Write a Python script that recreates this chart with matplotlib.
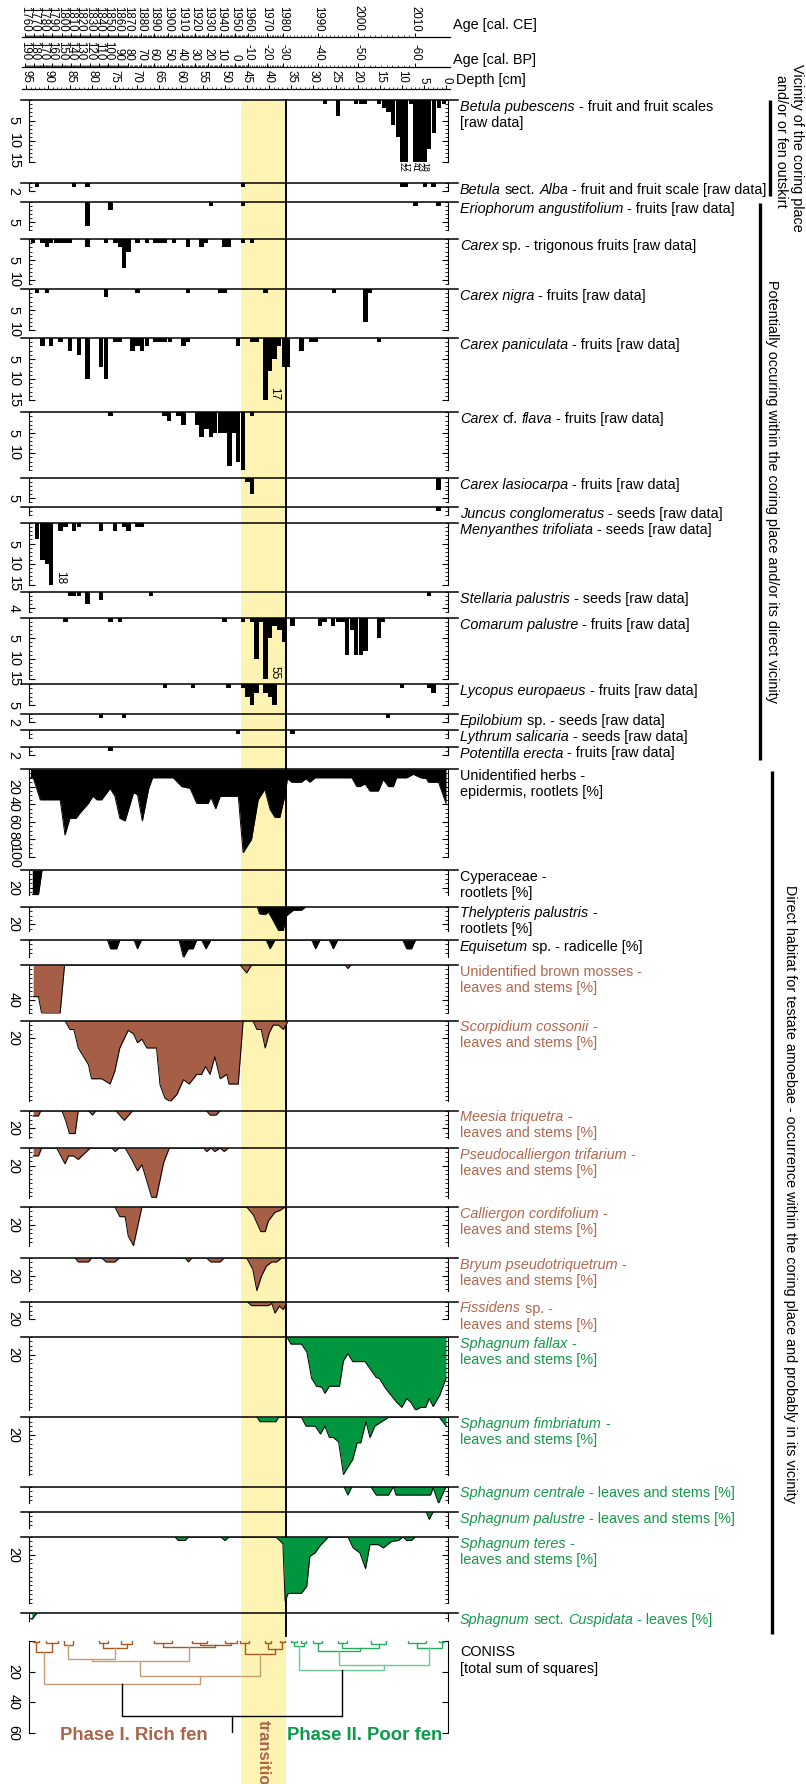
import numpy as np
import matplotlib
matplotlib.use("Agg")
import matplotlib.pyplot as plt
from matplotlib.ticker import FixedLocator, MultipleLocator

plt.rcParams['font.family'] = ['Liberation Sans', 'DejaVu Sans']

# ------------------------------------------------------------------ data
# raw counts (depth in cm, count)
betula_pub_depth = [27.4, 24.4, 20.4, 19.3, 18.3, 15.1, 14.1, 13.0, 12.0, 10.9, 9.9, 9.0, 7.9, 6.9, 5.9, 4.9, 3.8, 2.7, 1.6, 0.5]
betula_pub_count = [1, 4, 1, 1, 1, 1, 2, 3, 6, 9, 22, 17, 1, 41, 23, 18, 12, 8, 2, 1]
betula_alba_depth = [92.5, 84.2, 81.1, 45.9, 9.9, 9.0, 4.8, 2.8]
betula_alba_count = [1, 1, 1, 1, 1, 1, 1, 1]
erioph_depth = [81.1, 75.9, 53.2, 45.9, 6.9, 1.7]
erioph_count = [6, 2, 1, 1, 1, 1]
carex_sp_depth = [93.4, 91.3, 90.3, 89.3, 88.3, 87.3, 86.3, 85.2, 81.1, 76.9, 74.8, 73.8, 72.8, 71.8, 69.8, 67.7,
                  65.7, 64.6, 63.6, 61.5, 58.4, 55.3, 54.3, 50.1, 49.2, 45.9, 43.9]
carex_sp_count = [1, 1, 2, 1, 1, 1, 1, 1, 2, 1, 1, 2, 7, 3, 1, 1, 1, 1, 1, 1, 2, 2, 1, 2, 2, 1, 1]
carex_nigra_depth = [92.5, 90.3, 76.9, 69.8, 58.4, 51.1, 50.1, 40.8, 25.4, 18.2, 17.2]
carex_nigra_count = [1, 1, 2, 1, 1, 1, 1, 1, 1, 8, 1]
carex_pan_depth = [91.3, 89.3, 87.2, 85.1, 83.1, 81.1, 78.1, 76.9, 74.8, 73.8, 70.9, 69.8, 68.8, 67.7, 65.7, 64.6,
                   63.6, 62.5, 59.4, 58.4, 47.1, 43.9, 42.9, 40.8, 39.8, 38.8, 37.8, 36.7, 35.7, 32.7, 30.5, 29.5, 15.2]
carex_pan_count = [2, 2, 1, 3, 4, 10, 7, 10, 1, 1, 3, 2, 3, 2, 1, 1, 1, 1, 2, 1, 2, 1, 1, 17, 8, 5, 2, 7, 7, 3, 1, 1, 1]
carex_flava_depth = [75.9, 63.7, 62.7, 60.5, 59.4, 56.3, 55.3, 54.2, 53.2, 52.2, 51.1, 50.1, 49.0, 48.0, 47.0, 45.9, 43.9]
carex_flava_count = [1, 1, 2, 1, 3, 3, 6, 4, 6, 5, 5, 5, 13, 5, 12, 14, 1]
carex_lasio_depth = [44.9, 43.9, 1.7]
carex_lasio_count = [1, 4, 3]
juncus_depth = [1.7]
juncus_count = [1]
menyanthes_depth = [92.5, 91.3, 90.3, 89.3, 87.2, 86.1, 84.2, 83.1, 78.0, 74.9, 72.8, 71.8, 69.8, 68.8]
menyanthes_count = [4, 9, 10, 18, 2, 1, 2, 1, 2, 2, 1, 2, 1, 1]
stellaria_depth = [85.1, 84.2, 83.1, 81.1, 78.0, 66.7, 3.8]
stellaria_count = [1, 1, 1, 3, 2, 1, 1]
comarum_depth = [86.1, 75.9, 73.8, 50.1, 45.9, 43.9, 42.9, 41.8, 40.8, 39.8, 38.8, 37.7, 36.7, 34.7, 28.5, 27.5,
                 25.5, 24.5, 23.4, 22.4, 21.3, 20.4, 19.3, 18.2, 15.2, 14.2]
comarum_count = [1, 1, 1, 1, 1, 1, 10, 1, 55, 5, 2, 3, 6, 2, 2, 1, 2, 1, 1, 9, 3, 9, 9, 8, 5, 1]
lycopus_depth = [63.6, 57.3, 49.2, 45.9, 44.9, 43.9, 42.9, 40.8, 39.8, 38.8, 10.0, 3.8, 2.8]
lycopus_count = [1, 1, 1, 1, 3, 5, 2, 2, 3, 5, 1, 1, 2]
epilobium_depth = [78.0, 72.8, 13.1]
epilobium_count = [1, 1, 1]
lythrum_depth = [47.1, 34.7]
lythrum_count = [1, 1]
potentilla_depth = [75.9]
potentilla_count = [1]

# percentages (depth in cm, %)
herbs_depth = [94.0, 93.4, 91.8, 87.3, 86.2, 85.1, 83.7, 82.8, 80.9, 79.9, 79.0, 77.9, 76.0, 74.9, 73.8, 72.6,
               70.7, 69.8, 68.7, 67.3, 66.4, 61.7, 59.8, 57.9, 56.4, 53.8, 53.2, 52.1, 51.1, 47.0, 45.9, 44.0,
               42.5, 41.0, 39.8, 38.7, 37.6, 36.3, 35.9, 34.9, 32.7, 31.7, 30.8, 29.6, 21.3, 20.2, 19.5, 18.3,
               17.2, 15.3, 14.2, 13.0, 11.9, 11.2, 8.9, 7.4, 5.7, 4.4, 4.0, 1.7, 0.0]
herbs_pct = [10, 10, 35, 35, 75, 56, 56, 50, 39, 31, 35, 35, 22, 31, 56, 59, 27, 29, 59, 23, 10, 10, 20, 22, 39, 39,
             32, 45, 31, 31, 95, 80, 35, 23, 46, 55, 55, 27, 11, 15, 15, 11, 15, 10, 10, 20, 20, 17, 25, 25, 12, 20,
             20, 10, 10, 6, 10, 11, 15, 15, 39]
cyper_depth = [93.6, 92.2, 91.4]
cyper_pct = [28, 28, 0]
thely_depth = [42.7, 42.2, 40.9, 40.2, 39.4, 37.9, 36.8, 36.2, 35.3, 34.5, 32.7, 31.7]
thely_pct = [0, 8, 9, 6, 13, 27, 27, 11, 7, 4, 4, 0]
equis_depth = [76.6, 75.9, 74.5, 73.8, 70.6, 69.8, 68.9, 60.4, 59.4, 58.3, 57.2, 56.4, 55.3, 54.3, 53.2, 40.7, 39.8,
               38.7, 30.4, 29.5, 28.5, 26.4, 25.5, 24.5, 9.8, 8.9, 7.8, 6.9]
equis_pct = [0, 10, 10, 0, 0, 10, 0, 0, 20, 10, 10, 0, 0, 10, 0, 0, 10, 0, 0, 10, 0, 0, 10, 0, 0, 10, 10, 0]
brown_depth = [93.4, 92.2, 91.5, 87.3, 86.3, 46.6, 45.1, 44.0, 22.8, 22.2, 21.5]
brown_pct = [36, 36, 55, 55, 0, 0, 9, 0, 0, 4, 0]
scorp_depth = [86.2, 85.1, 84.2, 83.2, 80.9, 80.2, 77.9, 76.0, 74.9, 73.8, 71.9, 70.7, 69.8, 68.8, 67.7, 65.5, 64.7,
               63.6, 62.4, 60.9, 59.4, 58.1, 56.4, 55.3, 54.4, 53.4, 52.3, 51.1, 49.6, 49.1, 47.0, 45.9, 43.7, 42.8,
               41.8, 40.9, 40.0, 39.1, 37.9, 36.8, 36.0, 35.8]
scorp_pct = [0, 10, 10, 31, 50, 66, 66, 72, 57, 31, 11, 15, 25, 21, 31, 31, 73, 88, 92, 84, 67, 72, 61, 61, 52, 61,
             41, 66, 61, 72, 72, 0, 0, 10, 10, 31, 14, 5, 5, 10, 3, 0]
meesia_depth = [93.4, 92.2, 91.7, 86.9, 86.0, 85.2, 83.9, 83.2, 80.9, 80.0, 79.2, 74.7, 72.8, 70.9, 54.2, 53.4, 52.0, 51.1]
meesia_pct = [6, 6, 0, 0, 12, 26, 26, 0, 0, 5, 0, 0, 11, 0, 0, 5, 5, 0]
pseudo_depth = [93.4, 92.2, 91.5, 88.1, 86.2, 85.4, 84.3, 83.2, 80.5, 75.6, 74.9, 73.9, 72.6, 71.1, 69.8, 68.8, 66.6,
                65.5, 63.9, 62.6, 54.9, 54.1, 53.2, 52.3, 51.1, 50.2, 49.2]
pseudo_pct = [9, 9, 0, 0, 18, 9, 9, 13, 0, 0, 4, 0, 0, 13, 26, 19, 56, 56, 17, 0, 0, 4, 0, 4, 0, 4, 0]
callier_depth = [74.9, 73.8, 72.6, 71.9, 70.7, 68.8, 45.1, 43.6, 41.9, 40.9, 40.2, 38.7, 37.6, 36.4]
callier_pct = [0, 11, 11, 33, 44, 0, 0, 9, 28, 28, 16, 6, 4, 0]
bryum_depth = [83.9, 83.2, 80.9, 80.2, 77.9, 76.9, 74.9, 73.9, 59.0, 58.3, 57.5, 54.2, 53.2, 51.1, 50.2, 45.1, 43.7,
               42.8, 41.7, 40.6, 39.4, 38.3, 37.2]
bryum_pct = [0, 4.5, 4.5, 0, 0, 4.5, 4.5, 0, 0, 4.5, 0, 0, 4.5, 4.5, 0, 0, 13, 37, 20, 9, 4.5, 4.5, 0]
fissid_depth = [45.0, 44.0, 40.2, 39.4, 38.7, 37.7, 36.8, 36.0]
fissid_pct = [0, 4.5, 4.5, 2, 13, 5, 9, 0]
fallax_depth = [36.0, 35.1, 32.7, 31.5, 30.4, 29.3, 28.1, 27.4, 26.4, 24.1, 23.2, 22.2, 21.1, 18.3, 17.2, 15.8, 15.1,
                13.6, 12.3, 11.2, 10.0, 8.9, 8.0, 6.9, 5.7, 4.6, 3.8, 2.9, 1.4, 0.0]
fallax_pct = [0, 8, 8, 17, 47, 56, 57, 64, 56, 56, 27, 19, 28, 28, 36, 46, 47, 59, 67, 74, 80, 70, 74, 83, 80, 80, 70,
              79, 66, 47]
fimbr_depth = [42.7, 42.1, 38.5, 37.9, 32.7, 31.7, 29.6, 28.4, 27.4, 26.4, 25.5, 24.3, 23.2, 22.1, 21.1, 20.1, 19.3,
               18.1, 17.2, 16.1, 13.0, 1.5, 0.0]
fimbr_pct = [0, 5, 5, 0, 0, 10, 10, 19, 10, 23, 23, 28, 65, 56, 48, 29, 29, 5, 23, 10, 0, 0, 10]
centrale_depth = [23.1, 22.2, 21.3, 17.0, 15.8, 13.0, 11.9, 11.3, 3.5, 2.9, 1.7, 0.0]
centrale_pct = [0, 9.5, 0, 0, 9.5, 9.5, 0, 9.5, 9.5, 1, 19, 0]
spalustre_depth = [4.5, 3.8, 2.9]
spalustre_pct = [0, 8.7, 0]
teres_depth = [61.3, 60.6, 59.0, 58.3, 51.0, 50.0, 49.1, 38.5, 36.9, 36.4, 35.7, 32.7, 31.5, 30.8, 29.6, 28.5, 26.6,
               22.2, 21.0, 19.5, 18.2, 17.2, 15.3, 14.2, 12.3, 10.8, 9.7, 8.9, 7.8, 7.0]
teres_pct = [0, 4, 4, 0, 0, 4, 0, 0, 7.6, 73, 64, 64, 56, 22, 18, 10, 0, 0, 12.5, 18, 36, 8.7, 8.7, 12.5, 5, 4, 0, 4,
             4, 0]
cusp_depth = [93.7, 92.6]
cusp_pct = [7, 0]

# age scale (tick positions)
age_years = [1760, 1770, 1780, 1790, 1800, 1810, 1820, 1830, 1840, 1850, 1860, 1870, 1880, 1890, 1900, 1910, 1920,
             1930, 1940, 1950, 1960, 1970, 1980, 1990, 2000, 2010]
age_depths = [95.2, 93.1, 91.2, 89.2, 86.9, 84.9, 82.8, 80.5, 78.4, 76.4, 74.1, 71.9, 68.9, 66.1, 62.8, 59.8, 56.8,
              53.8, 50.8, 47.7, 44.7, 40.6, 36.8, 28.9, 19.8, 7.0]
depth_ticks = [95, 90, 85, 80, 75, 70, 65, 60, 55, 50, 45, 40, 35, 30, 25, 20, 15, 10, 5, 0]

transition_lower_depth = 46.4
transition_upper_depth = 36.2

# CONISS tree: (left, right, total sum of squares); leaves are depths
coniss_phase1 = (((93.5, 92.0, 0.8), (90.5, 87.8, 1.2), 7.3),
                 ((((86.5, 84.5, 2.5), ((78.5, 76.5, 1.5), (73.5, 71.0, 2.0), 4.5), 11.5),
                   ((66.0, 62.0, 1.5), ((57.5, 54.0, 1.0), (50.0, 47.3, 1.2), 2.5), 3.7), 13.0),
                  ((46.5, 44.5, 1.0), ((41.0, 39.5, 1.5), (37.5, 36.5, 0.8), 5.5), 8.6), 23.0),
                 28.0)
coniss_phase2 = (((35.0, 33.8, 0.8), (32.8, 31.6, 1.2), 3.5),
                 (((30.0, 28.0, 1.5), ((24.5, 22.5, 1.5), (17.0, 13.5, 2.2), 4.5), 6.6),
                  ((8.5, 4.5, 1.5), (1.5, 0.5, 0.6), 4.3), 15.6),
                 19.0)
coniss_root_height = 49.0

# ------------------------------------------------------------------ styling
W, H = 806, 1784
FS = 10.4
BLACK = 'black'
BROWN = '#a65e46'
BROWN_TXT = '#b0674d'
GREEN = '#009640'
GREEN_TXT = '#139a48'
YELLOW = '#fdf3b2'
X0, PXCM = 446.0, 4.42


def px2d(px):
    return (X0 - px) / PXCM


fig = plt.figure(figsize=(W / 100, H / 100), dpi=100)

# background (depth coordinates horizontally, pixels vertically)
bg = fig.add_axes([0, 0, 1, 1])
bg.set_zorder(-5)
bg.set_xlim(px2d(0), px2d(W))
bg.set_ylim(H, 0)
bg.axis('off')
bg.fill_betweenx([100, H], transition_lower_depth, transition_upper_depth, color=YELLOW, lw=0)
bg.plot([transition_upper_depth] * 2, [100, 1636], color='black', lw=1.4)

# overlay (pixel coordinates) for text and group brackets
ov = fig.add_axes([0, 0, 1, 1])
ov.set_zorder(10)
ov.set_xlim(0, W)
ov.set_ylim(H, 0)
ov.axis('off')
ov.patch.set_alpha(0)


def make_axes(top_px, bottom_px, left_px=21, right_px=458):
    ax = fig.add_axes([left_px / W, 1 - bottom_px / H, (right_px - left_px) / W, (bottom_px - top_px) / H])
    ax.set_facecolor('none')
    ax.set_xlim(px2d(left_px), px2d(right_px))
    return ax


def put_label(top_px, lines, color):
    y = top_px + 10.8
    for line in lines:
        prev = None
        for text, ital in line:
            style = 'italic' if ital else 'normal'
            if prev is None:
                prev = ov.text(460, y, text, fontsize=FS, fontstyle=style, color=color, ha='left', va='baseline')
            else:
                off = 0
                if text.startswith(' '):
                    off = 0.278 * FS
                    text = text[1:]
                prev = ov.annotate(text, xy=(1, 0), xycoords=prev, xytext=(off, 0), textcoords='offset points',
                                   ha='left', va='bottom', fontsize=FS, fontstyle=style, color=color,
                                   annotation_clip=False)
        y += 16


I, N = True, False
RAW = ' [raw data]'
panels = [
    dict(kind='bar', d=betula_pub_depth, v=betula_pub_count, top=100, ymax=15, ticks=[5, 10, 15], num='below',
         label=[[("Betula pubescens", I), (" - fruit and fruit scales", N)], [("[raw data]", N)]]),
    dict(kind='bar', d=betula_alba_depth, v=betula_alba_count, top=183, ymax=2, ticks=[2],
         label=[[("Betula", I), (" sect.", N), (" Alba", I), (" - fruit and fruit scale" + RAW, N)]]),
    dict(kind='bar', d=erioph_depth, v=erioph_count, top=201.7, ymax=7, ticks=[5],
         label=[[("Eriophorum angustifolium", I), (" - fruits" + RAW, N)]]),
    dict(kind='bar', d=carex_sp_depth, v=carex_sp_count, top=239.3, ymax=11, ticks=[5, 10],
         label=[[("Carex", I), (" sp. - trigonous fruits" + RAW, N)]]),
    dict(kind='bar', d=carex_nigra_depth, v=carex_nigra_count, top=289.3, ymax=10, ticks=[5, 10],
         label=[[("Carex nigra", I), (" - fruits" + RAW, N)]]),
    dict(kind='bar', d=carex_pan_depth, v=carex_pan_count, top=338.3, ymax=15, ticks=[5, 10, 15], num='side',
         label=[[("Carex paniculata", I), (" - fruits" + RAW, N)]]),
    dict(kind='bar', d=carex_flava_depth, v=carex_flava_count, top=412.3, ymax=14, ticks=[5, 10],
         label=[[("Carex", I), (" cf.", N), (" flava", I), (" - fruits" + RAW, N)]]),
    dict(kind='bar', d=carex_lasio_depth, v=carex_lasio_count, top=477.7, ymax=6, ticks=[5],
         label=[[("Carex lasiocarpa", I), (" - fruits" + RAW, N)]]),
    dict(kind='bar', d=juncus_depth, v=juncus_count, top=507, ymax=2, ticks=[],
         label=[[("Juncus conglomeratus", I), (" - seeds" + RAW, N)]]),
    dict(kind='bar', d=menyanthes_depth, v=menyanthes_count, top=523, ymax=15, ticks=[5, 10, 15], num='side',
         label=[[("Menyanthes trifoliata", I), (" - seeds" + RAW, N)]]),
    dict(kind='bar', d=stellaria_depth, v=stellaria_count, top=591.7, ymax=5, ticks=[4],
         label=[[("Stellaria palustris", I), (" - seeds" + RAW, N)]]),
    dict(kind='bar', d=comarum_depth, v=comarum_count, top=617.7, ymax=15, ticks=[5, 10, 15], num='side',
         label=[[("Comarum palustre", I), (" - fruits" + RAW, N)]]),
    dict(kind='bar', d=lycopus_depth, v=lycopus_count, top=684.3, ymax=5, ticks=[5],
         label=[[("Lycopus europaeus", I), (" - fruits" + RAW, N)]]),
    dict(kind='bar', d=epilobium_depth, v=epilobium_count, top=714, ymax=2, ticks=[2],
         label=[[("Epilobium", I), (" sp. - seeds" + RAW, N)]]),
    dict(kind='bar', d=lythrum_depth, v=lythrum_count, top=730, ymax=2, ticks=[],
         label=[[("Lythrum salicaria", I), (" - seeds" + RAW, N)]]),
    dict(kind='bar', d=potentilla_depth, v=potentilla_count, top=746.7, ymax=2, ticks=[2],
         label=[[("Potentilla erecta", I), (" - fruits" + RAW, N)]]),
    dict(kind='area', d=herbs_depth, v=herbs_pct, top=769, ymax=100, ticks=[20, 40, 60, 80, 100], fc=BLACK, tc=BLACK,
         label=[[("Unidentified herbs -", N)], [("epidermis, rootlets [%]", N)]]),
    dict(kind='area', d=cyper_depth, v=cyper_pct, top=870, ymax=28, ticks=[20], fc=BLACK, tc=BLACK,
         label=[[("Cyperaceae -", N)], [("rootlets [%]", N)]]),
    dict(kind='area', d=thely_depth, v=thely_pct, top=906.7, ymax=28, ticks=[20], fc=BLACK, tc=BLACK,
         label=[[("Thelypteris palustris", I), (" -", N)], [("rootlets [%]", N)]]),
    dict(kind='area', d=equis_depth, v=equis_pct, top=940, ymax=19, ticks=[], fc=BLACK, tc=BLACK,
         label=[[("Equisetum", I), (" sp. - radicelle [%]", N)]]),
    dict(kind='area', d=brown_depth, v=brown_pct, top=965, ymax=55, ticks=[40], fc=BROWN, tc=BROWN_TXT,
         label=[[("Unidentified brown mosses -", N)], [("leaves and stems [%]", N)]]),
    dict(kind='area', d=scorp_depth, v=scorp_pct, top=1020.7, ymax=91, ticks=[20], fc=BROWN, tc=BROWN_TXT,
         label=[[("Scorpidium cossonii", I), (" -", N)], [("leaves and stems [%]", N)]]),
    dict(kind='area', d=meesia_depth, v=meesia_pct, top=1110.7, ymax=31, ticks=[20], fc=BROWN, tc=BROWN_TXT,
         label=[[("Meesia triquetra", I), (" -", N)], [("leaves and stems [%]", N)]]),
    dict(kind='area', d=pseudo_depth, v=pseudo_pct, top=1148, ymax=57, ticks=[20], fc=BROWN, tc=BROWN_TXT,
         label=[[("Pseudocalliergon trifarium", I), (" -", N)], [("leaves and stems [%]", N)]]),
    dict(kind='area', d=callier_depth, v=callier_pct, top=1207, ymax=44, ticks=[20], fc=BROWN, tc=BROWN_TXT,
         label=[[("Calliergon cordifolium", I), (" -", N)], [("leaves and stems [%]", N)]]),
    dict(kind='area', d=bryum_depth, v=bryum_pct, top=1258, ymax=38, ticks=[20], fc=BROWN, tc=BROWN_TXT,
         label=[[("Bryum pseudotriquetrum", I), (" -", N)], [("leaves and stems [%]", N)]]),
    dict(kind='area', d=fissid_depth, v=fissid_pct, top=1301.7, ymax=20, ticks=[20], fc=BROWN, tc=BROWN_TXT,
         label=[[("Fissidens", I), (" sp. -", N)], [("leaves and stems [%]", N)]]),
    dict(kind='area', d=fallax_depth, v=fallax_pct, top=1337, ymax=83, ticks=[20], fc=GREEN, tc=GREEN_TXT,
         label=[[("Sphagnum fallax", I), (" -", N)], [("leaves and stems [%]", N)]]),
    dict(kind='area', d=fimbr_depth, v=fimbr_pct, top=1417.3, ymax=66, ticks=[20], fc=GREEN, tc=GREEN_TXT,
         label=[[("Sphagnum fimbriatum", I), (" -", N)], [("leaves and stems [%]", N)]]),
    dict(kind='area', d=centrale_depth, v=centrale_pct, top=1486.7, ymax=19, ticks=[], fc=GREEN, tc=GREEN_TXT,
         label=[[("Sphagnum centrale", I), (" - leaves and stems [%]", N)]]),
    dict(kind='area', d=spalustre_depth, v=spalustre_pct, top=1511.7, ymax=19, ticks=[], fc=GREEN, tc=GREEN_TXT,
         label=[[("Sphagnum palustre", I), (" - leaves and stems [%]", N)]]),
    dict(kind='area', d=teres_depth, v=teres_pct, top=1537, ymax=75, ticks=[20], fc=GREEN, tc=GREEN_TXT,
         label=[[("Sphagnum teres", I), (" -", N)], [("leaves and stems [%]", N)]]),
    dict(kind='area', d=cusp_depth, v=cusp_pct, top=1613.3, ymax=9, ticks=[], fc=GREEN, tc=GREEN_TXT,
         label=[[("Sphagnum", I), (" sect.", N), (" Cuspidata", I), (" - leaves [%]", N)]]),
]


def style_spines(ax, show_top=True):
    ax.spines['bottom'].set_visible(False)
    ax.spines['top'].set_visible(show_top)
    ax.spines['top'].set_linewidth(1.1)
    ax.spines['left'].set_position(('data', px2d(29)))
    ax.spines['right'].set_position(('data', px2d(448)))
    ax.spines['left'].set_linewidth(0.8)
    ax.spines['right'].set_linewidth(0.8)
    ax.set_xticks([])


for p in panels:
    scale = 4.1 if p['kind'] == 'bar' else 0.88
    ax = make_axes(p['top'], p['top'] + p['ymax'] * scale)
    ax.set_ylim(p['ymax'], 0)
    style_spines(ax)
    d = np.asarray(p['d'], float)
    v = np.asarray(p['v'], float)
    if p['kind'] == 'bar':
        ax.bar(d, v, width=0.98, bottom=0, color='black', linewidth=0)
        for dd, vv in zip(d, v):
            if vv > p['ymax']:
                if p.get('num') == 'below':
                    ax.text(dd, p['ymax'], '%d' % vv, rotation=-90, ha='center', va='top', fontsize=6.3,
                            clip_on=False)
                else:
                    ax.text(dd - 0.6, p['ymax'], '%d' % vv, rotation=-90, ha='left', va='bottom', fontsize=8.5,
                            clip_on=False)
        minor = 1
        color = BLACK
    else:
        ax.fill_between(d, 0, v, color=p['fc'], lw=0)
        ax.plot(d, v, color='black', lw=0.7)
        minor = 5
        color = p['tc']
    ax.yaxis.set_major_locator(FixedLocator(p['ticks']))
    ax.yaxis.set_minor_locator(MultipleLocator(minor))
    ax.set_yticklabels([str(t) for t in p['ticks']], rotation=-90, va='center', ha='right', fontsize=FS)
    ax.tick_params(axis='y', which='both', direction='in', left=True, right=True, labelleft=True,
                   labelright=False)
    ax.tick_params(axis='y', which='major', length=4, width=0.8, pad=6)
    ax.tick_params(axis='y', which='minor', length=2.2, width=0.6)
    put_label(p['top'], p['label'], color)

# ------------------------------------------------------------------ CONISS
axc = make_axes(1641, 1733)
axc.set_ylim(60, 0)
style_spines(axc, show_top=False)
axc.set_yticks([0, 20, 40, 60])
axc.set_yticklabels(['', '20', '40', '60'], rotation=-90, va='center', ha='right', fontsize=FS)
axc.tick_params(axis='y', which='major', direction='in', left=True, right=True, length=4, width=0.8, pad=6)

tree_colors = {1: ('#c69d78', '#a8581f'), 2: ('#6acb95', '#25ad5e')}


def draw_node(ax, node, group):
    if not isinstance(node, tuple):
        return float(node), 0.0
    left, right, h = node
    xl, hl = draw_node(ax, left, group)
    xr, hr = draw_node(ax, right, group)
    col = tree_colors[group][0 if h >= 10 else 1]
    ax.plot([xl, xl, xr, xr], [hl, h, h, hr], color=col, lw=1.0, solid_joinstyle='miter')
    return (xl + xr) / 2, h


x1, h1 = draw_node(axc, coniss_phase1, 1)
x2, h2 = draw_node(axc, coniss_phase2, 2)
axc.plot([x1, x1, x2, x2], [h1, coniss_root_height, coniss_root_height, h2], color='black', lw=1.0)
axc.plot([(x1 + x2) / 2] * 2, [coniss_root_height, 60], color='black', lw=1.0)
ov.text(460, 1656, 'CONISS', fontsize=FS, ha='left', va='baseline')
ov.text(460, 1673, '[total sum of squares]', fontsize=FS, ha='left', va='baseline')

# ------------------------------------------------------------------ top axes


def top_axis(line_y, major_d, labels, minor_d):
    ax = fig.add_axes([22 / W, 1 - line_y / H, (450 - 22) / W, 0.0001])
    ax.set_facecolor('none')
    ax.set_xlim(px2d(22), px2d(450))
    for s in ['left', 'right', 'bottom']:
        ax.spines[s].set_visible(False)
    ax.spines['top'].set_linewidth(0.9)
    ax.set_yticks([])
    ax.xaxis.set_ticks_position('top')
    ax.set_xticks(major_d)
    ax.set_xticklabels(labels, rotation=-90, ha='center', va='bottom', fontsize=8.3)
    ax.set_xticks(minor_d, minor=True)
    ax.tick_params(axis='x', which='major', direction='out', length=3.2, width=0.7, pad=1)
    ax.tick_params(axis='x', which='minor', direction='out', length=1.6, width=0.5)
    return ax


yrs = np.arange(1760, 2011)
minor_age = np.interp(yrs, age_years, age_depths)
top_axis(37.3, age_depths, [str(y) for y in age_years], minor_age)
top_axis(66.7, age_depths, [str(1950 - y) for y in age_years], minor_age)
top_axis(89.3, depth_ticks, [str(t) for t in depth_ticks], np.arange(0, 96, 1))
ov.text(453, 25, 'Age [cal. CE]', fontsize=FS, ha='left', va='center')
ov.text(453, 60, 'Age [cal. BP]', fontsize=FS, ha='left', va='center')
ov.text(456, 80, 'Depth [cm]', fontsize=FS, ha='left', va='center')

# ------------------------------------------------------------------ groups on the right
ov.plot([770, 770], [100, 196], color='black', lw=2.4, solid_capstyle='butt')
ov.plot([760, 760], [203, 760], color='black', lw=2.4, solid_capstyle='butt')
ov.plot([772, 772], [771, 1634], color='black', lw=2.4, solid_capstyle='butt')
ov.text(797, 148, 'Vicinity of the coring place', rotation=270, fontsize=FS, ha='center', va='center')
ov.text(781, 141, 'and/or or fen outskirt', rotation=270, fontsize=FS, ha='center', va='center')
ov.text(772, 491, 'Potentially occuring within the coring place and/or its direct vicinity', rotation=270,
        fontsize=FS, ha='center', va='center')
ov.text(790, 1194, 'Direct habitat for testate amoebae - occurrence within the coring place and probably in its vicinity',
        rotation=270, fontsize=FS, ha='center', va='center')

# ------------------------------------------------------------------ phase labels
ov.text(134, 1736, 'Phase I. Rich fen', fontsize=13.3, fontweight='bold', color='#aa644b', ha='center', va='center')
ov.text(365, 1736, 'Phase II. Poor fen', fontsize=13.3, fontweight='bold', color='#0b9a48', ha='center', va='center')
ov.text(263, 1720, 'transition', rotation=270, fontsize=12, fontweight='bold', color='#aa644b', ha='center', va='top')

fig.savefig('out.png', dpi=100)
